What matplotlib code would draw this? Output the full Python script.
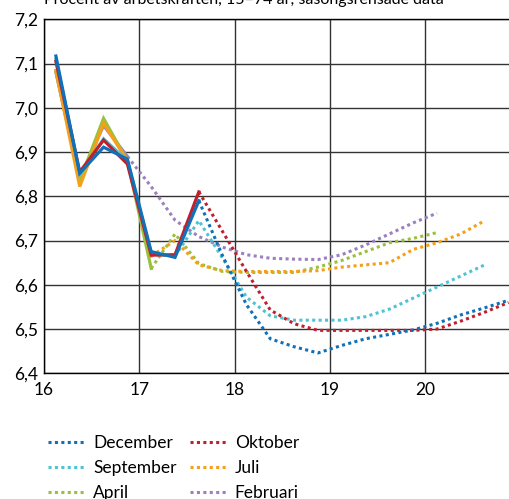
import numpy as np
from matplotlib import pyplot as plt

plt.rcParams['font.family'] = ['Lato', 'DejaVu Sans']

# kvartal, x = år (16 = 2016) + mitt i kvartalet
q = np.arange(16.125, 21.0, 0.25)

# utfall (heldragna) per prognostillfälle
utfall = {
    'December':  [7.117, 6.852, 6.911, 6.884, 6.675, 6.662, 6.790],
    'Oktober':   [7.105, 6.855, 6.927, 6.873, 6.667, 6.668, 6.810],
    'September': [7.110, 6.850, 6.930, 6.880, 6.670, 6.665],
    'Juli':      [7.084, 6.822, 6.965, 6.880, 6.665],
    'April':     [7.084, 6.835, 6.976, 6.880, 6.637],
    'Februari':  [7.080, 6.840, 6.960, 6.890],
}

# prognoser (prickade), startar i sista utfallet
prognos = {
    'December':  [6.790, 6.665, 6.555, 6.478, 6.460, 6.446, 6.463, 6.478,
                  6.488, 6.498, 6.513, 6.532, 6.548, 6.565],
    'Oktober':   [6.810, 6.720, 6.630, 6.543, 6.512, 6.497, 6.497, 6.497,
                  6.497, 6.497, 6.500, 6.518, 6.538, 6.560],
    'September': [6.665, 6.745, 6.660, 6.572, 6.530, 6.520, 6.520, 6.520,
                  6.528, 6.545, 6.570, 6.595, 6.620, 6.645],
    'Juli':      [6.665, 6.700, 6.645, 6.632, 6.630, 6.630, 6.630, 6.632,
                  6.640, 6.645, 6.650, 6.680, 6.695, 6.715, 6.745],
    'April':     [6.637, 6.715, 6.648, 6.630, 6.628, 6.628, 6.628, 6.640,
                  6.655, 6.675, 6.695, 6.705, 6.718],
    'Februari':  [6.890, 6.822, 6.746, 6.709, 6.685, 6.668, 6.660, 6.658,
                  6.657, 6.668, 6.690, 6.715, 6.740, 6.762],
}

farger = {
    'December': '#1070b8',
    'Oktober': '#c0202e',
    'September': '#4fc3d6',
    'Juli': '#f5a01a',
    'April': '#99c13c',
    'Februari': '#9b80c0',
}

ordning = ['Februari', 'April', 'Juli', 'September', 'Oktober', 'December']

fig = plt.figure(figsize=(5.09, 4.99), dpi=100)
ax = fig.add_axes([44 / 509, 1 - 373.3 / 499, 1 - 44 / 509, (373.3 - 19.3) / 499])

for z, namn in enumerate(ordning):
    u = utfall[namn]
    ax.plot(q[:len(u)], u, color=farger[namn], lw=2.3, zorder=3 + z,
            solid_joinstyle='miter')
    p = prognos[namn]
    start = len(u) - 1
    ax.plot(q[start:start + len(p)], p, color=farger[namn], lw=2.2,
            linestyle=(0, (1, 1.1)), zorder=3 + z, label=namn)

ax.set_xlim(16, 20.88)
ax.set_ylim(6.4, 7.2)
ax.set_xticks([16, 17, 18, 19, 20])
ax.set_yticks(np.arange(6.4, 7.21, 0.1))
ax.set_yticklabels([f'{v:.1f}'.replace('.', ',') for v in np.arange(6.4, 7.21, 0.1)])
ax.tick_params(length=0, labelsize=12.5, pad=6, colors='black')
ax.tick_params(axis='y', pad=4)
ax.grid(True, color='#333333', lw=1.0)
ax.set_axisbelow(True)
ax.spines['right'].set_visible(False)
for s in ['left', 'bottom', 'top']:
    ax.spines[s].set_color('black')
    ax.spines[s].set_linewidth(1.0)

# rubriken är avskuren upptill, som i originalet
fig.text(44 / 509, 1.0, 'Procent av arbetskraften, 15\u201374 år, säsongsrensade data',
         fontsize=11.5, ha='left', va='center')

handles, labels = ax.get_legend_handles_labels()
h = {l: hh for hh, l in zip(handles, labels)}
leg_ordning = ['December', 'September', 'April', 'Oktober', 'Juli', 'Februari']
fig.legend([h[n] for n in leg_ordning], leg_ordning, ncol=2, frameon=False,
           loc='upper left', bbox_to_anchor=(48 / 509, 1 - 435 / 499),
           fontsize=12.5, handlelength=2.1, handletextpad=0.5,
           columnspacing=0.75, labelspacing=0.52, borderaxespad=0, borderpad=0)

fig.savefig('out.png', dpi=100)
